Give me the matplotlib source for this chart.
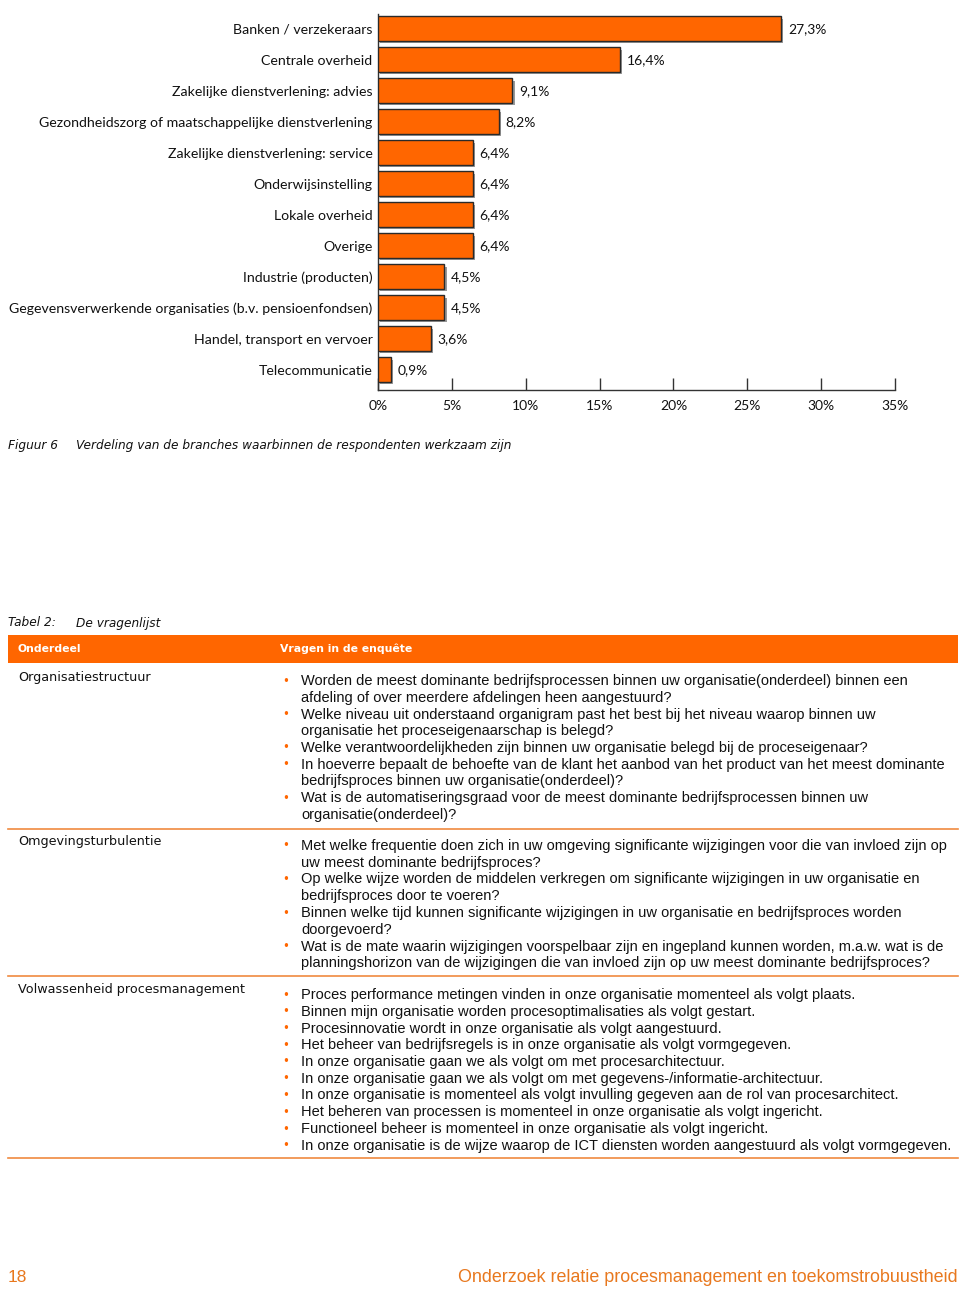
import matplotlib
matplotlib.use("Agg")
import matplotlib.pyplot as plt
import matplotlib.patheffects as pe

categories = ["Banken / verzekeraars", "Centrale overheid", "Zakelijke dienstverlening: advies",
              "Gezondheidszorg of maatschappelijke dienstverlening", "Zakelijke dienstverlening: service",
              "Onderwijsinstelling", "Lokale overheid", "Overige", "Industrie (producten)",
              "Gegevensverwerkende organisaties (b.v. pensioenfondsen)", "Handel, transport en vervoer",
              "Telecommunicatie"]
values = [27.3, 16.4, 9.1, 8.2, 6.4, 6.4, 6.4, 6.4, 4.5, 4.5, 3.6, 0.9]
xticks = [0, 5, 10, 15, 20, 25, 30, 35]

caption_label = "Figuur 6"
caption_text = "Verdeling van de branches waarbinnen de respondenten werkzaam zijn"
table_label = "Tabel 2:"
table_title = "De vragenlijst"
header_left = "Onderdeel"
header_right = "Vragen in de enquête"

sections = ["Organisatiestructuur", "Omgevingsturbulentie", "Volwassenheid procesmanagement"]
questions = [
    [["Worden de meest dominante bedrijfsprocessen binnen uw organisatie(onderdeel) binnen een",
      "afdeling of over meerdere afdelingen heen aangestuurd?"],
     ["Welke niveau uit onderstaand organigram past het best bij het niveau waarop binnen uw",
      "organisatie het proceseigenaarschap is belegd?"],
     ["Welke verantwoordelijkheden zijn binnen uw organisatie belegd bij de proceseigenaar?"],
     ["In hoeverre bepaalt de behoefte van de klant het aanbod van het product van het meest dominante",
      "bedrijfsproces binnen uw organisatie(onderdeel)?"],
     ["Wat is de automatiseringsgraad voor de meest dominante bedrijfsprocessen binnen uw",
      "organisatie(onderdeel)?"]],
    [["Met welke frequentie doen zich in uw omgeving significante wijzigingen voor die van invloed zijn op",
      "uw meest dominante bedrijfsproces?"],
     ["Op welke wijze worden de middelen verkregen om significante wijzigingen in uw organisatie en",
      "bedrijfsproces door te voeren?"],
     ["Binnen welke tijd kunnen significante wijzigingen in uw organisatie en bedrijfsproces worden",
      "doorgevoerd?"],
     ["Wat is de mate waarin wijzigingen voorspelbaar zijn en ingepland kunnen worden, m.a.w. wat is de",
      "planningshorizon van de wijzigingen die van invloed zijn op uw meest dominante bedrijfsproces?"]],
    [["Proces performance metingen vinden in onze organisatie momenteel als volgt plaats."],
     ["Binnen mijn organisatie worden procesoptimalisaties als volgt gestart."],
     ["Procesinnovatie wordt in onze organisatie als volgt aangestuurd."],
     ["Het beheer van bedrijfsregels is in onze organisatie als volgt vormgegeven."],
     ["In onze organisatie gaan we als volgt om met procesarchitectuur."],
     ["In onze organisatie gaan we als volgt om met gegevens-/informatie-architectuur."],
     ["In onze organisatie is momenteel als volgt invulling gegeven aan de rol van procesarchitect."],
     ["Het beheren van processen is momenteel in onze organisatie als volgt ingericht."],
     ["Functioneel beheer is momenteel in onze organisatie als volgt ingericht."],
     ["In onze organisatie is de wijze waarop de ICT diensten worden aangestuurd als volgt vormgegeven."]],
]
page_number = "18"
footer_text = "Onderzoek relatie procesmanagement en toekomstrobuustheid"

ORANGE = "#FF6600"
FOOT = "#E8781E"
W, H = 960, 1289

fig = plt.figure(figsize=(W / 100, H / 100), dpi=100)
fig.patch.set_facecolor("white")


def fx(x):
    return x / W


def fy(y):
    return 1 - y / H


# ---- bar chart ----
ax_left, ax_right, ax_top, ax_bot = 378, 895, 14, 390
ax = fig.add_axes([fx(ax_left), fy(ax_bot), fx(ax_right - ax_left), (ax_bot - ax_top) / H])
ypos = list(range(len(categories)))
bars = ax.barh(ypos, values, height=0.8, color=ORANGE, edgecolor="#2a2a2a", linewidth=1.0, zorder=3)
for b in bars:
    b.set_path_effects([pe.SimplePatchShadow(offset=(1.5, -1.5), shadow_rgbFace="#555555", alpha=0.6),
                        pe.Normal()])
ax.set_xlim(0, 35)
ax.set_ylim(11.65, -0.48)
ax.set_yticks(ypos)
ax.set_yticklabels(categories, family="Lato", fontsize=10.15, color="#111111")
ax.tick_params(axis="y", length=0, pad=4)
ax.set_xticks(xticks)
ax.set_xticklabels([f"{t}%" for t in xticks], family="Lato", fontsize=10, color="#111111")
ax.tick_params(axis="x", direction="in", length=9, width=1, color="#333333", pad=7)
for s in ["top", "right"]:
    ax.spines[s].set_visible(False)
for s in ["left", "bottom"]:
    ax.spines[s].set_color("#333333")
    ax.spines[s].set_linewidth(1)
ax.patch.set_alpha(0)
for yi, v in zip(ypos, values):
    ax.text(v + 0.45, yi, f"{v:.1f}%".replace(".", ","), va="center", ha="left",
            family="Lato", fontsize=10, color="#111111")

# ---- caption ----
fig.text(fx(8), fy(445), caption_label, style="italic", family="DejaVu Sans", fontsize=8.7,
         va="center", ha="left", color="#111111")
fig.text(fx(76), fy(445), caption_text, style="italic", family="DejaVu Sans", fontsize=8.7,
         va="center", ha="left", color="#111111")

# ---- table ----
fig.text(fx(8), fy(623), table_label, style="italic", family="DejaVu Sans", fontsize=8.7,
         va="center", ha="left", color="#111111")
fig.text(fx(76), fy(623), table_title, style="italic", family="DejaVu Sans", fontsize=8.7,
         va="center", ha="left", color="#111111")

hdr = plt.Rectangle((fx(8), fy(663)), fx(950), (663 - 635) / H, transform=fig.transFigure,
                    facecolor=ORANGE, edgecolor="none")
fig.patches.append(hdr)
fig.text(fx(18), fy(649), header_left, weight="bold", family="DejaVu Sans", fontsize=7.8,
         va="center", ha="left", color="white")
fig.text(fx(280), fy(649), header_right, weight="bold", family="DejaVu Sans", fontsize=7.8,
         va="center", ha="left", color="white")

section_tops = [677, 842, 990]
first_line = [681, 846, 995]
line_step = 16.75
sep_lines = [829, 976, 1158]

for si, sec in enumerate(sections):
    fig.text(fx(18), fy(section_tops[si]), sec, family="DejaVu Sans", fontsize=9.2,
             va="center", ha="left", color="#111111")
    yy = first_line[si]
    for q in questions[si]:
        fig.text(fx(282), fy(yy), "•", family="DejaVu Sans", fontsize=8.5, va="center", ha="left",
                 color=ORANGE)
        for ln in q:
            fig.text(fx(301), fy(yy), ln, family="Liberation Sans", fontsize=10.55, va="center",
                     ha="left", color="#111111")
            yy += line_step
    fig.add_artist(plt.Line2D([fx(8), fx(958)], [fy(sep_lines[si])] * 2, color="#F08A40",
                              linewidth=1.2, transform=fig.transFigure))

# ---- footer ----
fig.text(fx(8), fy(1278), page_number, family="Liberation Sans", fontsize=12.5, va="center",
         ha="left", color=FOOT)
fig.text(fx(958), fy(1278), footer_text, family="Liberation Sans", fontsize=12.9, va="center",
         ha="right", color=FOOT)

fig.savefig("out.png", dpi=100, facecolor="white")
